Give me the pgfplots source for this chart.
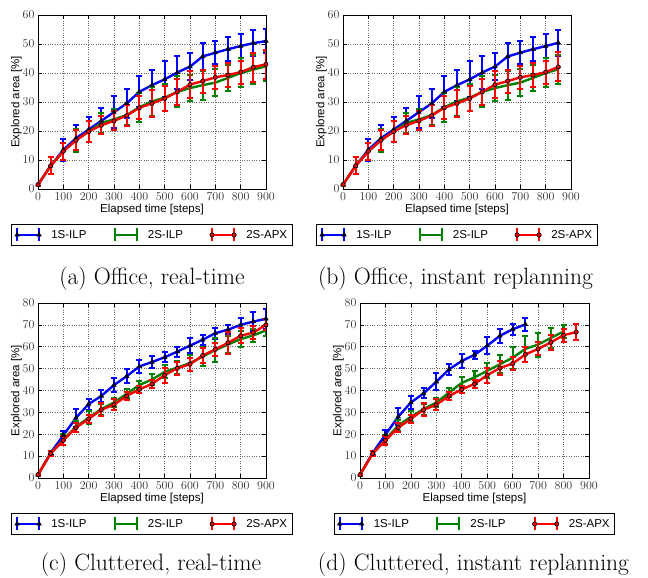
\documentclass[border=0pt]{standalone}
\usepackage{pgfplots}
\pgfplotsset{compat=1.18}
\usepackage{fontspec}
\newfontfamily\arialf{Liberation Sans}
\definecolor{mplgreen}{RGB}{0,128,0}
\pgfplotsset{
  myaxis/.style={
    scale only axis, width=228pt, height=174pt,
    xmin=0, xmax=900, xtick={0,100,...,900},
    grid=major, grid style={dotted, black!60, line width=0.6pt},
    axis line style={line width=0.8pt},
    tick align=inside, major tick length=4pt,
    tick style={black, line width=0.6pt},
    ticklabel style={font=\fontsize{12.5}{14}\selectfont, black!80},
    xlabel={Elapsed time [steps]}, ylabel={Explored area [\%]},
    label style={font=\arialf\fontsize{11.5}{13}\selectfont},
    xlabel style={yshift=3pt},
    ylabel style={yshift=-6pt},
    legend columns=3,
    legend style={at={(0.5,-0.201)}, anchor=north, draw=black, line width=0.8pt,
      font=\arialf\fontsize{11.5}{13}\selectfont, inner sep=3pt,
      /tikz/every odd column/.append style={column sep=8pt},
      /tikz/every even column/.append style={column sep=25pt}},
    legend cell align=left,
  },
  ebar/.style={error bars/y dir=both, error bars/y explicit,
      error bars/error bar style={line width=2.2pt}, error bars/error mark=-,
      error bars/error mark options={rotate=90, line width=2pt, mark size=3pt}},
  sA/.style={blue, line width=2.4pt, mark=triangle*, mark size=2.6pt,
      mark options={fill=blue!20!black, draw=black, line width=0.5pt}, ebar,
      legend image code/.code={
        \draw[line width=2pt] (0pt,-6.5pt)--(0pt,6.5pt) (22pt,-6.5pt)--(22pt,6.5pt);
        \draw[mark repeat=1] plot coordinates {(0pt,0pt) (22pt,0pt)};}},
  sB/.style={mplgreen, line width=2.4pt, mark=none, ebar,
      legend image code/.code={
        \draw[line width=2pt] (0pt,-6.5pt)--(0pt,6.5pt) (22pt,-6.5pt)--(22pt,6.5pt);
        \draw (0pt,0pt)--(22pt,0pt);}},
  sC/.style={red, line width=2.4pt, mark=*, mark size=2.1pt,
      mark options={fill=red, draw=black, line width=0.7pt}, ebar,
      legend image code/.code={
        \draw[line width=2pt] (0pt,-6.5pt)--(0pt,6.5pt) (22pt,-6.5pt)--(22pt,6.5pt);
        \draw[mark repeat=1] plot coordinates {(0pt,0pt) (22pt,0pt)};}},
}
\begin{document}
\begin{tikzpicture}
\useasboundingbox (0pt,0pt) rectangle (648pt,578pt);
% (a)
\begin{axis}[myaxis, at={(38pt,389pt)}, anchor=south west, ymin=0, ymax=60, ytick={0,10,...,60}]
\addplot[sA] coordinates {(0,1.5)+-(0,0.5) (50,8)+-(0,3) (100,13.5)+-(0,3.8) (150,17.5)+-(0,4.5) (200,20.5)+-(0,4.2) (250,23.5)+-(0,4.3) (300,26.5)+-(0,5.5) (350,29.5)+-(0,5) (400,33.5)+-(0,5.3) (450,35.8)+-(0,5.3) (500,37.8)+-(0,6.2) (550,40.2)+-(0,5.8) (600,42.2)+-(0,4.6) (650,45.7)+-(0,4.5) (700,47)+-(0,4) (750,48.2)+-(0,4.2) (800,49.3)+-(0,4.3) (850,50.3)+-(0,4.5) (900,51)+-(0,4)};
\addplot[sB] coordinates {(0,1.5)+-(0,0.5) (50,8)+-(0,3) (100,13)+-(0,3) (150,16.8)+-(0,4) (200,19.8)+-(0,3.5) (250,22.8)+-(0,3.5) (300,24)+-(0,3.5) (350,25.5)+-(0,3.5) (400,28.2)+-(0,5) (450,30.2)+-(0,5) (500,31.5)+-(0,4.7) (550,33.5)+-(0,5.3) (600,34.8)+-(0,4.5) (650,35.8)+-(0,5) (700,36.7)+-(0,4.8) (750,38.3)+-(0,4.5) (800,40)+-(0,5) (850,41.2)+-(0,5) (900,42.3)+-(0,5.2)};
\addplot[sC] coordinates {(0,1.5)+-(0,0.5) (50,8)+-(0,3) (100,13)+-(0,3) (150,16.8)+-(0,3.5) (200,19.8)+-(0,3.5) (250,22)+-(0,3) (300,23.5)+-(0,3.3) (350,25.3)+-(0,3.5) (400,28)+-(0,4) (450,29.5)+-(0,4.7) (500,31.2)+-(0,4.4) (550,33.5)+-(0,4.5) (600,36)+-(0,4.7) (650,37.2)+-(0,4) (700,38.5)+-(0,4) (750,39.3)+-(0,4) (800,40.3)+-(0,4) (850,42)+-(0,5) (900,43)+-(0,5)};
\legend{1S-ILP,2S-ILP,2S-APX}
\end{axis}
% (b)
\begin{axis}[myaxis, at={(343pt,389pt)}, anchor=south west, ymin=0, ymax=60, ytick={0,10,...,60}]
\addplot[sA] coordinates {(0,1.5)+-(0,0.5) (50,8)+-(0,3) (100,13.5)+-(0,3.8) (150,17.5)+-(0,4.5) (200,20.5)+-(0,4.2) (250,23.5)+-(0,4.3) (300,26.5)+-(0,5.5) (350,29.5)+-(0,5) (400,33.5)+-(0,5.3) (450,35.8)+-(0,5.3) (500,37.8)+-(0,6.2) (550,40.2)+-(0,5.8) (600,42.2)+-(0,4.6) (650,45.7)+-(0,4.5) (700,47)+-(0,4) (750,48.2)+-(0,4.2) (800,49.3)+-(0,4.3) (850,50.4)+-(0,4.5)};
\addplot[sB] coordinates {(0,1.5)+-(0,0.5) (50,8)+-(0,3) (100,13)+-(0,3) (150,16.8)+-(0,4) (200,19.8)+-(0,3.5) (250,22.8)+-(0,3.5) (300,24)+-(0,3.5) (350,25.5)+-(0,3.5) (400,28.2)+-(0,5) (450,30.2)+-(0,5) (500,31.5)+-(0,4.7) (550,33.5)+-(0,5.3) (600,34.8)+-(0,4.5) (650,35.8)+-(0,5) (700,36.7)+-(0,4.8) (750,38.3)+-(0,4.5) (800,40)+-(0,5) (850,41.3)+-(0,5)};
\addplot[sC] coordinates {(0,1.5)+-(0,0.5) (50,8)+-(0,3) (100,13)+-(0,3) (150,16.8)+-(0,3.5) (200,19.8)+-(0,3.5) (250,22)+-(0,3) (300,23.5)+-(0,3.3) (350,25.3)+-(0,3.5) (400,28)+-(0,4) (450,29.5)+-(0,4.7) (500,31.2)+-(0,4.4) (550,33.5)+-(0,4.5) (600,36)+-(0,4.7) (650,37.2)+-(0,4) (700,38.5)+-(0,4) (750,39.3)+-(0,4) (800,40.3)+-(0,4) (850,42.1)+-(0,5)};
\legend{1S-ILP,2S-ILP,2S-APX}
\end{axis}
% (c)
\begin{axis}[myaxis, height=175pt, legend style={at={(0.5,-0.2)}}, at={(38pt,100pt)}, anchor=south west, ymin=0, ymax=80, ytick={0,10,...,80}]
\addplot[sA] coordinates {(0,1.5)+-(0,0.5) (50,11.5)+-(0,1) (100,19.5)+-(0,2) (150,27.5)+-(0,4) (200,33.8)+-(0,2.5) (250,37.5)+-(0,2.8) (300,42.5)+-(0,3.3) (350,46.5)+-(0,3.3) (400,51)+-(0,3) (450,53)+-(0,2.8) (500,55.2)+-(0,2.3) (550,57.8)+-(0,2.3) (600,60.5)+-(0,3.5) (650,63.2)+-(0,2.3) (700,66.2)+-(0,2.5) (750,67.8)+-(0,2) (800,70)+-(0,3) (850,71.5)+-(0,4.5) (900,72.8)+-(0,4.5)};
\addplot[sB] coordinates {(0,1.5)+-(0,0.5) (50,11.2)+-(0,1) (100,17.5)+-(0,2.5) (150,23.5)+-(0,2.5) (200,27.5)+-(0,3) (250,31.5)+-(0,2.5) (300,34.5)+-(0,2) (350,38.5)+-(0,2) (400,42.5)+-(0,2) (450,45)+-(0,2.5) (500,48.5)+-(0,3) (550,50.5)+-(0,3) (600,52.5)+-(0,3.5) (650,55.5)+-(0,4.5) (700,58.5)+-(0,5.5) (750,61)+-(0,4) (800,63.5)+-(0,3.5) (850,65.2)+-(0,3) (900,67.5)+-(0,2.5)};
\addplot[sC] coordinates {(0,1.5)+-(0,0.5) (50,11.2)+-(0,1) (100,17.2)+-(0,2) (150,23)+-(0,2) (200,27)+-(0,2) (250,31.2)+-(0,3) (300,33.5)+-(0,2.5) (350,37.5)+-(0,2) (400,40.5)+-(0,1.5) (450,43)+-(0,2) (500,47)+-(0,3.5) (550,50.2)+-(0,3) (600,52)+-(0,3) (650,56)+-(0,3.5) (700,58.8)+-(0,3) (750,61.8)+-(0,5) (800,65)+-(0,3.5) (850,66.5)+-(0,3) (900,70)+-(0,2.5)};
\legend{1S-ILP,2S-ILP,2S-APX}
\end{axis}
% (d)
\begin{axis}[myaxis, width=229pt, height=175pt, legend style={at={(0.5,-0.2)}}, at={(360pt,100pt)}, anchor=south west, ymin=0, ymax=80, ytick={0,10,...,80}]
\addplot[sA] coordinates {(0,1.5)+-(0,0.5) (50,11.5)+-(0,1) (100,19.8)+-(0,2) (150,28)+-(0,4) (200,34.5)+-(0,2.8) (250,38.7)+-(0,2.3) (300,44)+-(0,4) (350,49.7)+-(0,2.5) (400,53.5)+-(0,3) (450,56.3)+-(0,1.8) (500,60.5)+-(0,3.8) (550,65)+-(0,3.3) (600,68)+-(0,2.5) (650,70.2)+-(0,3)};
\addplot[sB] coordinates {(0,1.5)+-(0,0.5) (50,11.2)+-(0,1) (100,17.5)+-(0,2) (150,24)+-(0,2.5) (200,28)+-(0,2.5) (250,31.5)+-(0,2.5) (300,34.5)+-(0,2) (350,39)+-(0,2) (400,43.5)+-(0,2.5) (450,46)+-(0,3) (500,49)+-(0,3.5) (550,52)+-(0,4) (600,55)+-(0,5) (650,59)+-(0,6) (700,61)+-(0,5.5) (750,64)+-(0,4.5) (800,67)+-(0,3)};
\addplot[sC] coordinates {(0,1.5)+-(0,0.5) (50,11.2)+-(0,1) (100,17.2)+-(0,2) (150,23)+-(0,2) (200,27)+-(0,2) (250,31.2)+-(0,3) (300,33.5)+-(0,2.5) (350,37.5)+-(0,2) (400,40.5)+-(0,1.5) (450,43)+-(0,2) (500,47)+-(0,3.5) (550,50.3)+-(0,3) (600,52.3)+-(0,3) (650,56.5)+-(0,3.5) (700,59)+-(0,3) (750,62)+-(0,3.5) (800,65.3)+-(0,3) (850,66.7)+-(0,3.5)};
\legend{1S-ILP,2S-ILP,2S-APX}
\end{axis}
\node[font=\fontsize{23.6}{26}\selectfont, inner sep=0pt] at (152pt,299.5pt) {(a) Office, real-time};
\node[font=\fontsize{23.6}{26}\selectfont, inner sep=0pt] at (455.5pt,299.5pt) {(b) Office, instant replanning};
\node[font=\fontsize{23.6}{26}\selectfont, inner sep=0pt] at (151pt,13pt) {(c) Cluttered, real-time};
\node[font=\fontsize{23.6}{26}\selectfont, inner sep=0pt] at (473.5pt,13pt) {(d) Cluttered, instant replanning};
\end{tikzpicture}
\end{document}
